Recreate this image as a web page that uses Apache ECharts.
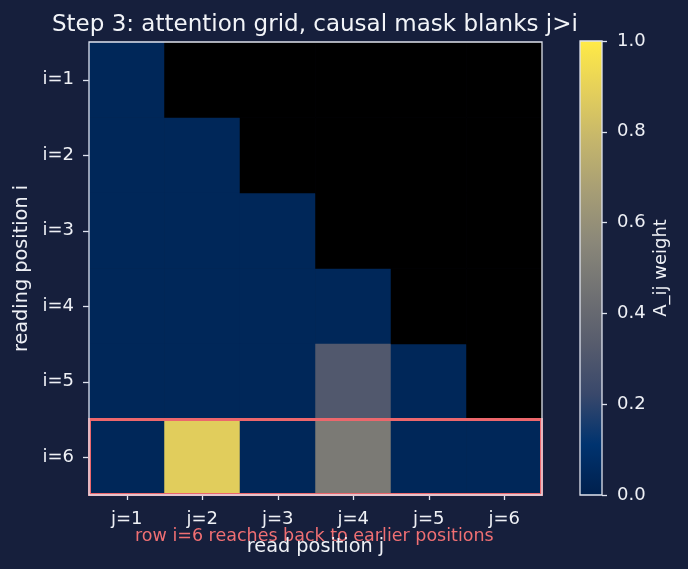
<!DOCTYPE html>
<html><head><meta charset="utf-8">
<script src="https://cdn.jsdelivr.net/npm/echarts@6/dist/echarts.min.js"></script>
<style>html,body{margin:0;padding:0;background:#161f3c;}#c{width:688px;height:569px;}</style>
</head><body><div id="c"></div>
<script>
const readCols = ['j=1','j=2','j=3','j=4','j=5','j=6'];
const readingRows = ['i=1','i=2','i=3','i=4','i=5','i=6'];
// attention weights (lower triangle incl. diagonal), row i, columns j<=i
const weights = [
  [0.04],
  [0.04, 0.04],
  [0.04, 0.04, 0.04],
  [0.04, 0.04, 0.04, 0.04],
  [0.04, 0.04, 0.04, 0.31, 0.04],
  [0.04, 0.88, 0.04, 0.49, 0.04, 0.04]
];
const highlightRow = 'i=6';
const colorbarTicks = [0, 0.2, 0.4, 0.6, 0.8, 1.0];
const cividis = ['#00204D','#00336F','#39486B','#575C6D','#707173','#8A8779','#A69D75','#C4B56C','#E4CF5B','#FFEA46'];

const attnData = [];
const maskData = [];
for (let i = 0; i < readingRows.length; i++) {
  for (let j = 0; j < readCols.length; j++) {
    if (j <= i) attnData.push([j, i, weights[i][j]]);
    else maskData.push([j, i, 0]);
  }
}
const hRow = readingRows.indexOf(highlightRow);

const fg = '#eef0f5';
const spine = '#dfe3ee';
const font = 'DejaVu Sans';
const chart = echarts.init(document.getElementById('c'));
chart.setOption({
  backgroundColor: '#161f3c',
  animation: false,
  textStyle: {fontFamily: font},
  title: {text: 'Step 3: attention grid, causal mask blanks j>i', left: 47, top: 9,
    textStyle: {color: '#f2f4f8', fontSize: 23, fontWeight: 'normal', fontFamily: font}},
  grid: [
    {left: 89, top: 42, width: 453, height: 453, show: true, borderColor: spine, borderWidth: 1.3, backgroundColor: 'transparent', z: 10},
    {left: 580, top: 41, width: 22, height: 454, show: true, borderColor: spine, borderWidth: 1.3, z: 10}
  ],
  xAxis: [
    {type: 'category', data: readCols, gridIndex: 0, position: 'bottom',
      name: 'read position j', nameLocation: 'middle', nameGap: 42,
      nameTextStyle: {color: fg, fontSize: 19.3, fontFamily: font},
      axisLine: {show: false}, axisTick: {show: true, alignWithLabel: true, length: 5, lineStyle: {color: spine, width: 1.3}},
      axisLabel: {color: fg, fontSize: 18, margin: 15, fontFamily: font}, splitLine: {show: false}},
    {type: 'category', data: ['cb'], gridIndex: 1, show: false}
  ],
  yAxis: [
    {type: 'category', data: readingRows, gridIndex: 0, inverse: true,
      name: 'reading position i', nameLocation: 'middle', nameGap: 56, nameRotate: 90,
      nameTextStyle: {color: fg, fontSize: 19.3, fontFamily: font},
      axisLine: {show: false}, axisTick: {show: true, alignWithLabel: true, length: 6, lineStyle: {color: spine, width: 1.3}},
      axisLabel: {color: fg, fontSize: 18, margin: 15, fontFamily: font}, splitLine: {show: false}},
    {type: 'value', gridIndex: 1, position: 'right', min: 0, max: 1, interval: 0.2,
      name: 'A_ij weight', nameLocation: 'middle', nameGap: 50, nameRotate: 90,
      nameTextStyle: {color: fg, fontSize: 18, fontFamily: font},
      axisLine: {show: false}, axisTick: {show: true, length: 5, lineStyle: {color: spine, width: 1.3}},
      axisLabel: {color: fg, fontSize: 18, margin: 15, fontFamily: font,
        formatter: v => colorbarTicks.some(t => Math.abs(t - v) < 1e-9) ? v.toFixed(1) : ''},
      splitLine: {show: false}}
  ],
  visualMap: {show: false, type: 'continuous', min: 0, max: 1, seriesIndex: 0, inRange: {color: cividis}},
  series: [
    {type: 'heatmap', xAxisIndex: 0, yAxisIndex: 0, data: attnData, itemStyle: {borderWidth: 0}},
    {type: 'heatmap', xAxisIndex: 0, yAxisIndex: 0, data: maskData, itemStyle: {color: '#000000', borderWidth: 0}},
    {type: 'custom', xAxisIndex: 0, yAxisIndex: 0, z: 5, silent: true,
      data: [[0, hRow, readCols.length - 1]], encode: {x: [0, 2], y: 1},
      renderItem: function (params, api) {
        const p0 = api.coord([api.value(0), api.value(1)]);
        const p1 = api.coord([api.value(2), api.value(1)]);
        const s = api.size([1, 1]);
        return {type: 'rect', shape: {x: p0[0] - s[0] / 2 + 0.5, y: p0[1] - s[1] / 2,
            width: p1[0] - p0[0] + s[0] - 1, height: s[1] - 0.5},
          style: {fill: 'none', stroke: '#ec676c', lineWidth: 3}};
      }},
    {type: 'bar', xAxisIndex: 1, yAxisIndex: 1, data: [1], barWidth: '100%', silent: true,
      itemStyle: {color: new echarts.graphic.LinearGradient(0, 1, 0, 0,
        cividis.map((c, k) => ({offset: k / (cividis.length - 1), color: c})))}}
  ],
  graphic: [
    {type: 'text', left: 361, top: 73, style: {text: 'masked j>i\n(the future)', fill: '#f4f5f8', fontSize: 15, fontFamily: font, textAlign: 'center', lineHeight: 18}},
    {type: 'text', left: 135, top: 527, style: {text: 'row i=6 reaches back to earlier positions', fill: '#ef6f73', fontSize: 17.5, fontFamily: font}}
  ]
});
</script></body></html>
